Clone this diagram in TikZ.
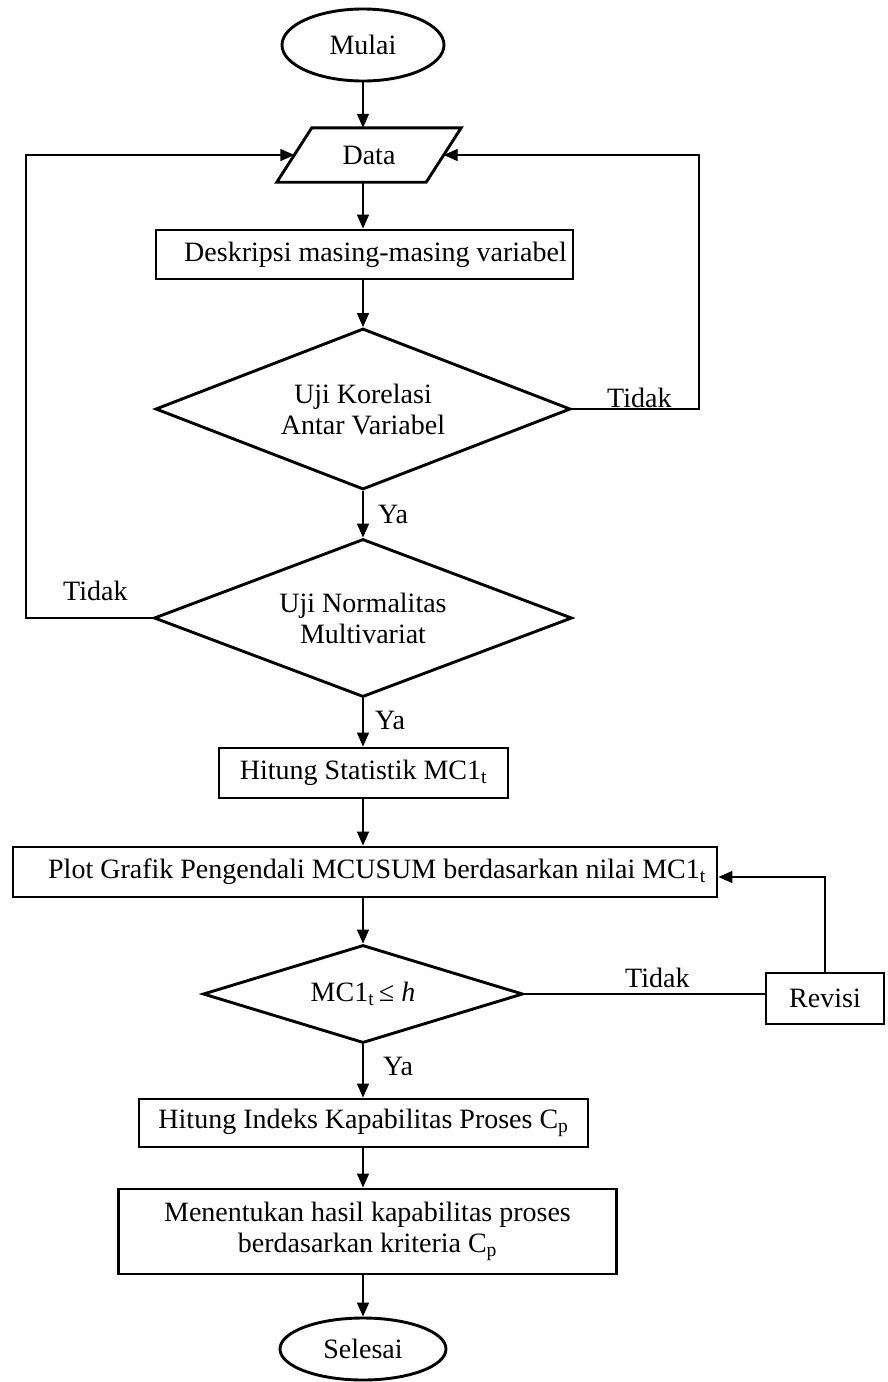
\documentclass[tikz,border=0pt]{standalone}
\usepackage{fontspec}
\setmainfont{Liberation Serif}
\usetikzlibrary{shapes.geometric,arrows.meta}
\begin{document}
\begin{tikzpicture}[x=1pt,y=-1pt,
  every node/.style={font=\fontsize{28}{31}\selectfont},
  box/.style={draw, line width=2.9pt, rectangle, inner sep=0pt, align=center},
  term/.style={draw, line width=2.9pt, ellipse, inner sep=0pt},
  decision/.style={draw, line width=2.9pt, diamond, inner sep=0pt, align=center},
  conn/.style={line width=1.4pt},
  arr/.style={conn, -{Triangle[length=14pt,width=12pt]}},
  lbl/.style={inner sep=0pt, anchor=base west}
]
\useasboundingbox (0,0) rectangle (887,1382);

% nodes
\node[term, minimum width=162pt, minimum height=72pt] (start) at (363,45) {Mulai};
\node[minimum width=149pt, minimum height=54pt, inner sep=0pt] (data) at (369,155) {Data};
\draw[line width=2.9pt, line join=miter]
  ([xshift=-17.5pt]data.south west) -- ([xshift=17.5pt]data.north west) --
  ([xshift=17.5pt]data.north east) -- ([xshift=-17.5pt]data.south east) -- cycle;
\node[box, minimum width=417pt, minimum height=49pt] (desk) at (364.5,254.5) {\hspace*{22pt}Deskripsi masing-masing variabel};
\node[decision, minimum width=415pt, minimum height=161pt, aspect=2.58] (d1) at (363,409) {Uji Korelasi\\Antar Variabel};
\node[decision, minimum width=418pt, minimum height=158pt, aspect=2.65] (d2) at (363,618) {Uji Normalitas\\Multivariat};
\node[box, minimum width=289pt, minimum height=50pt] (hs) at (363.5,773) {Hitung Statistik MC1\textsubscript{t}};
\node[box, minimum width=704pt, minimum height=50pt] (plot) at (365,872) {\hspace*{24pt}Plot Grafik Pengendali MCUSUM berdasarkan nilai MC1\textsubscript{t}};
\node[decision, minimum width=320pt, minimum height=98pt, aspect=3.27] (d3) at (363,994) {MC1\textsubscript{t}\,≤ \textit{h}};
\node[box, minimum width=118pt, minimum height=51pt] (rev) at (825,998.5) {Revisi};
\node[box, minimum width=449pt, minimum height=48pt] (hi) at (363.5,1123) {Hitung Indeks Kapabilitas Proses C\textsubscript{p}};
\node[box, minimum width=498pt, minimum height=85pt] (men) at (367.5,1231.5) {Menentukan hasil kapabilitas proses\\berdasarkan kriteria C\textsubscript{p}};
\node[term, minimum width=166pt, minimum height=62pt] (stop) at (363,1349) {Selesai};

% main flow
\draw[arr] (start.south) -- (start.south |- data.north);
\draw[arr] (d1.north |- data.south) -- (d1.north |- desk.north);
\draw[arr] (d1.north |- desk.south) -- (d1.north);
\draw[arr] (d1.south) -- (d2.north);
\draw[arr] (d2.south) -- (d2.south |- hs.north);
\draw[arr] (d3.north |- hs.south) -- (d3.north |- plot.north);
\draw[arr] (d3.north |- plot.south) -- (d3.north);
\draw[arr] (d3.south) -- (d3.south |- hi.north);
\draw[arr] (d3.south |- hi.south) -- (d3.south |- men.north);
\draw[arr] (d3.south |- men.south) -- (stop.north);

% feedback loops
\coordinate (rc) at (699,155);
\coordinate (lc) at (26,155);
\draw[arr] (d1.east) -| (rc) -- (data.east);
\draw[arr] (d2.west) -| (lc) -- (data.west);
\draw[conn] (d3.east) -- (d3.east -| rev.west);
\draw[arr] (rev.north) |- ([yshift=-5pt]plot.east);

% labels
\node[lbl] (t1) at (607,407) {Tidak};
\node[lbl] (y1) at (378,523) {Ya};
\node[lbl] (t2) at (63,600) {Tidak};
\node[lbl] (y2) at (375,729) {Ya};
\node[lbl] (t3) at (625,987) {Tidak};
\node[lbl] (y3) at (383,1075) {Ya};
\end{tikzpicture}
\end{document}
